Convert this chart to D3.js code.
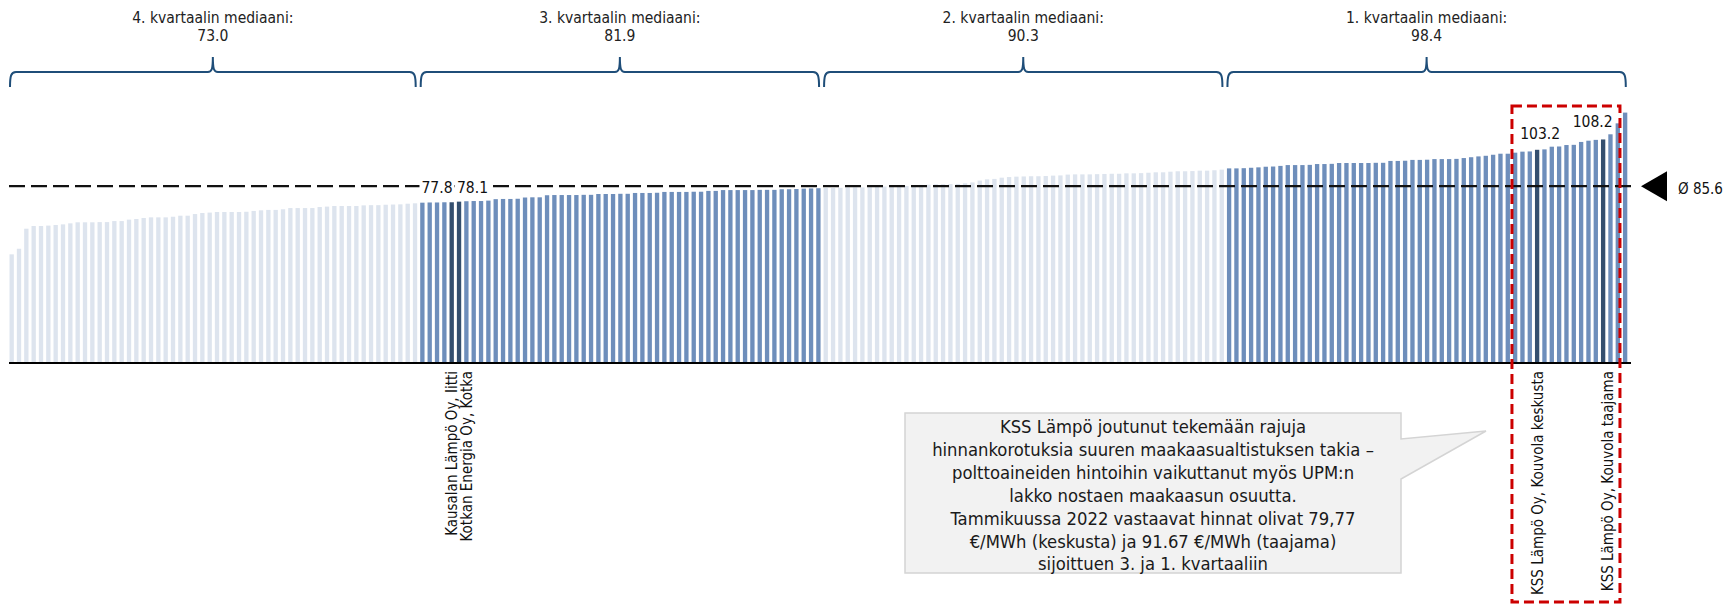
<!DOCTYPE html>
<html>
<head>
<meta charset="utf-8">
<script src="https://cdn.jsdelivr.net/npm/d3@7"></script>
<style>
	body { margin: 0; background: #fff; }
	svg { display: block; font-family: "DejaVu Sans Condensed", "DejaVu Sans", sans-serif; }
</style>
</head>
<body>
<svg id="chart" width="1725" height="605"></svg>
<script>
// values per quartile, sorted ascending
const q4Values = [52.6, 55.3, 65.0, 66.3, 66.3, 66.5, 66.8, 67.1, 67.6, 68.1, 68.1, 68.1, 68.2, 68.2,
	68.7, 68.7, 69.4, 69.7, 70.2, 70.5, 70.5, 70.5, 70.8, 71.3, 71.3, 72.1, 72.6, 72.8, 73.1, 73.1,
	73.1, 73.1, 73.2, 73.6, 73.9, 74.1, 74.1, 74.4, 75.0, 75.0, 75.0, 75.0, 75.5, 75.7, 76.0, 76.0,
	76.0, 76.0, 76.3, 76.4, 76.4, 76.6, 76.7, 76.8, 77.1, 77.3];
const q3Values = [77.6, 77.7, 77.7, 77.8, 77.8, 78.1, 78.3, 78.4, 78.4, 78.6, 79.3, 79.4, 79.4, 79.5,
	80.1, 80.2, 80.2, 81.2, 81.3, 81.3, 81.3, 81.3, 81.4, 81.4, 81.8, 81.8, 81.8, 81.9, 81.9, 82.3,
	82.3, 82.3, 82.4, 82.8, 82.8, 82.8, 82.8, 82.9, 82.9, 83.3, 83.3, 83.7, 83.7, 83.7, 83.7, 83.7,
	83.8, 83.8, 83.8, 84.1, 84.1, 84.2, 84.4, 84.5, 84.6];
const q2Values = [84.7, 84.7, 84.8, 85.0, 85.0, 85.0, 85.1, 85.4, 85.4, 85.5, 85.7, 85.7, 85.8, 86.2,
	86.3, 86.5, 86.5, 86.6, 86.7, 87.0, 87.4, 88.3, 88.9, 89.1, 89.7, 90.0, 90.2, 90.3, 90.4, 90.4,
	90.5, 90.7, 90.8, 91.2, 91.3, 91.3, 91.3, 91.4, 91.5, 91.6, 91.6, 91.8, 91.8, 91.9, 92.1, 92.3,
	92.3, 92.6, 92.8, 92.8, 92.9, 93.1, 93.1, 93.3, 93.6];
const q1Values = [94.2, 94.2, 94.3, 94.5, 94.7, 95.0, 95.1, 95.4, 95.8, 95.8, 95.8, 95.9, 96.3, 96.3,
	96.4, 96.8, 96.8, 96.8, 96.8, 96.8, 96.9, 96.9, 97.8, 97.8, 97.9, 98.3, 98.3, 98.4, 98.7, 98.7,
	98.7, 98.8, 99.2, 99.6, 100.0, 100.3, 100.8, 101.3, 101.3, 101.8, 102.3, 102.4, 103.2, 103.4,
	104.7, 104.8, 105.5, 105.6, 107.0, 107.6, 108.0, 108.2, 110.7, 116.0, 121.2];

const quartileTitles = ["4. kvartaalin mediaani:", "3. kvartaalin mediaani:", "2. kvartaalin mediaani:", "1. kvartaalin mediaani:"];
const quartileMedians = ["73.0", "81.9", "90.3", "98.4"];
const averageValue = 85.6;

// highlighted companies (index in the sorted list)
const highlightIndex = [60, 61, 208, 217];
const highlightNames = ["Kausalan Lämpö Oy, Iitti", "Kotkan Energia Oy, Kotka",
	"KSS Lämpö Oy, Kouvola keskusta", "KSS Lämpö Oy, Kouvola taajama"];

const calloutLines = [
	"KSS Lämpö joutunut tekemään rajuja",
	"hinnankorotuksia suuren maakaasualtistuksen takia –",
	"polttoaineiden hintoihin vaikuttanut myös UPM:n",
	"lakko nostaen maakaasun osuutta.",
	"Tammikuussa 2022 vastaavat hinnat olivat 79,77",
	"€/MWh (keskusta) ja 91.67 €/MWh (taajama)",
	"sijoittuen 3. ja 1. kvartaaliin",
];

const groups = [q4Values, q3Values, q2Values, q1Values];
const data = [];
groups.forEach((vals, g) => vals.forEach((v) => data.push({ i: data.length, v: v, g: g })));

const svg = d3.select("#chart");
const baseY = 363;

const x = d3.scaleBand()
	.domain(d3.range(data.length))
	.range([8, 1628.8])
	.paddingInner(0.41)
	.paddingOuter(0.205);
const y = d3.scaleLinear().domain([0, 100]).range([baseY, baseY - 206.6]);

const colLight = "#dde4ee";
const colMid = "#6e8ebb";
const colDark = "#344f6f";

svg.append("g")
	.selectAll("rect")
	.data(data)
	.join("rect")
	.attr("x", (d) => x(d.i))
	.attr("y", (d) => y(d.v))
	.attr("width", x.bandwidth())
	.attr("height", (d) => baseY - y(d.v))
	.attr("fill", (d) => highlightIndex.includes(d.i) ? colDark : (d.g % 2 === 0 ? colLight : colMid));

// baseline
svg.append("line")
	.attr("x1", 9).attr("x2", 1631)
	.attr("y1", baseY).attr("y2", baseY)
	.attr("stroke", "#000").attr("stroke-width", 2);

// average line
svg.append("line")
	.attr("x1", 9).attr("x2", 1632)
	.attr("y1", y(averageValue)).attr("y2", y(averageValue))
	.attr("stroke", "#111").attr("stroke-width", 2.2)
	.attr("stroke-dasharray", "16,6");

const ay = y(averageValue);
svg.append("path")
	.attr("d", `M1641,${ay} L1667,${ay - 15} L1667,${ay + 15} Z`)
	.attr("fill", "#000");
svg.append("text")
	.attr("x", 1678).attr("y", ay + 8)
	.attr("font-size", 15).attr("fill", "#111")
	.text("Ø " + averageValue.toFixed(1));

// quartile braces + titles
function bracePath(x0, x1) {
	const yTop = 57, yMid = 72, yEnd = 87, xc = (x0 + x1) / 2;
	return `M${x0},${yEnd} C${x0},${yMid + 4} ${x0 + 1},${yMid} ${x0 + 6},${yMid}` +
		` H${xc - 5} C${xc - 1},${yMid} ${xc},${yMid - 3} ${xc},${yTop}` +
		` C${xc},${yMid - 3} ${xc + 1},${yMid} ${xc + 5},${yMid}` +
		` H${x1 - 6} C${x1 - 1},${yMid} ${x1},${yMid + 4} ${x1},${yEnd}`;
}

let start = 0;
groups.forEach((vals, g) => {
	const x0 = x(start) - x.step() * x.paddingInner() / 2 + 2;
	const x1 = x(start + vals.length - 1) + x.bandwidth() + x.step() * x.paddingInner() / 2 - 3;
	start += vals.length;
	svg.append("path")
		.attr("d", bracePath(x0, x1))
		.attr("fill", "none")
		.attr("stroke", "#1f4e79")
		.attr("stroke-width", 2);
	const t = svg.append("text")
		.attr("text-anchor", "middle")
		.attr("font-size", 15.5)
		.attr("fill", "#222");
	t.append("tspan").attr("x", (x0 + x1) / 2).attr("y", 23).text(quartileTitles[g]);
	t.append("tspan").attr("x", (x0 + x1) / 2).attr("y", 41).text(quartileMedians[g]);
});

// value labels on highlighted bars
const valueLabelPos = [
	{ dx: -14.7, dy: -9 },
	{ dx: 13.5, dy: -9 },
	{ dx: 3, dy: -11 },
	{ dx: -10.5, dy: -12 },
];
highlightIndex.forEach((idx, k) => {
	const d = data[idx];
	const cx = x(idx) + x.bandwidth() / 2;
	const p = valueLabelPos[k];
	const txt = svg.append("text")
		.attr("x", cx + p.dx)
		.attr("y", y(d.v) + p.dy)
		.attr("text-anchor", "middle")
		.attr("font-size", 15.5)
		.attr("fill", "#111")
		.text(d.v.toFixed(1));
	const bb = txt.node().getBBox();
	svg.insert("rect", "text")
		.attr("x", bb.x - 2).attr("y", bb.y + 2)
		.attr("width", bb.width + 4).attr("height", bb.height - 4)
		.attr("fill", "#fff");
});

// rotated company names below axis
const nameDx = [0, 7.5, 1, 5];
highlightIndex.forEach((idx, k) => {
	const cx = x(idx) + x.bandwidth() / 2 + nameDx[k];
	svg.append("text")
		.attr("transform", `translate(${cx + 5.3},${baseY + 8}) rotate(-90)`)
		.attr("text-anchor", "end")
		.attr("font-size", 15)
		.attr("fill", "#111")
		.text(highlightNames[k]);
});

// callout
svg.append("path")
	.attr("d", "M905,413 H1401 V439 L1486,431 L1401,479 V573 H905 Z")
	.attr("fill", "#f2f2f2")
	.attr("stroke", "#d4d4d4")
	.attr("stroke-width", 1.5);
const co = svg.append("text")
	.attr("text-anchor", "middle")
	.attr("font-size", 18.3)
	.attr("fill", "#1a1a1a");
calloutLines.forEach((line, k) => {
	co.append("tspan").attr("x", 1153).attr("y", 433 + k * 22.9).text(line);
});

// red dashed frame around KSS bars
svg.append("rect")
	.attr("x", x(205) - 1)
	.attr("y", 106)
	.attr("width", x(219) + x.bandwidth() - x(205) + 1)
	.attr("height", 496)
	.attr("fill", "none")
	.attr("stroke", "#cc0000")
	.attr("stroke-width", 3)
	.attr("stroke-dasharray", "10,5");
</script>
</body>
</html>
